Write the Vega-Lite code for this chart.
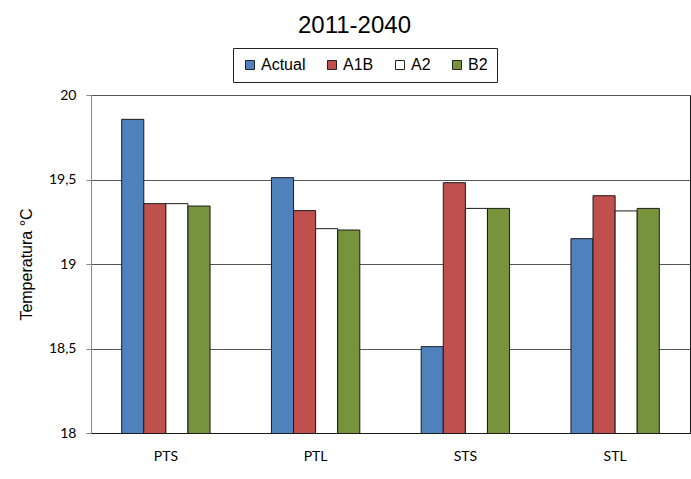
{
  "$schema": "https://vega.github.io/schema/vega-lite/v6.json",
  "width": 599,
  "height": 338,
  "autosize": "none",
  "padding": {"left": 91, "top": 95, "right": 1, "bottom": 46},
  "background": "white",
  "title": {
    "text": "2011-2040",
    "font": "Liberation Sans",
    "fontSize": 24,
    "fontWeight": "normal",
    "color": "#000000",
    "anchor": "middle",
    "dx": -36,
    "offset": 10
  },
  "data": {
    "values": [
      {"zona": "PTS", "escenario": "Actual", "temp": 19.856},
      {"zona": "PTS", "escenario": "A1B", "temp": 19.357},
      {"zona": "PTS", "escenario": "A2", "temp": 19.357},
      {"zona": "PTS", "escenario": "B2", "temp": 19.343},
      {"zona": "PTL", "escenario": "Actual", "temp": 19.511},
      {"zona": "PTL", "escenario": "A1B", "temp": 19.316},
      {"zona": "PTL", "escenario": "A2", "temp": 19.209},
      {"zona": "PTL", "escenario": "B2", "temp": 19.201},
      {"zona": "STS", "escenario": "Actual", "temp": 18.511},
      {"zona": "STS", "escenario": "A1B", "temp": 19.481},
      {"zona": "STS", "escenario": "A2", "temp": 19.329},
      {"zona": "STS", "escenario": "B2", "temp": 19.329},
      {"zona": "STL", "escenario": "Actual", "temp": 19.150},
      {"zona": "STL", "escenario": "A1B", "temp": 19.404},
      {"zona": "STL", "escenario": "A2", "temp": 19.314},
      {"zona": "STL", "escenario": "B2", "temp": 19.329}
    ]
  },
  "mark": {"type": "bar", "stroke": "#1a1a1a", "strokeWidth": 1, "clip": true},
  "encoding": {
    "x": {
      "field": "zona",
      "type": "nominal",
      "sort": ["PTS", "PTL", "STS", "STL"],
      "scale": {"paddingInner": 0.41, "paddingOuter": 0.205},
      "axis": {
        "title": null,
        "labelAngle": 0,
        "ticks": false,
        "domainColor": "#1a1a1a",
        "labelFont": "Lato",
        "labelFontSize": 14,
        "labelColor": "#000000",
        "labelPadding": 16
      }
    },
    "xOffset": {
      "field": "escenario",
      "type": "nominal",
      "sort": ["Actual", "A1B", "A2", "B2"],
      "scale": {"paddingInner": 0, "paddingOuter": 0}
    },
    "y": {
      "field": "temp",
      "type": "quantitative",
      "scale": {"domain": [18, 20], "zero": false, "nice": false},
      "axis": {
        "title": "Temperatura °C",
        "titleFont": "Liberation Sans",
        "titleFontSize": 16,
        "titleFontWeight": "normal",
        "titleColor": "#000000",
        "titlePadding": 14,
        "values": [18, 18.5, 19, 19.5, 20],
        "labelExpr": "replace(toString(datum.value), '.', ',')",
        "labelFont": "Lato",
        "labelFontSize": 14,
        "labelColor": "#000000",
        "labelPadding": 10,
        "tickSize": 5,
        "tickColor": "#888888",
        "domainColor": "#888888",
        "grid": true,
        "gridColor": "#555555",
        "gridWidth": 1
      }
    },
    "fill": {
      "field": "escenario",
      "type": "nominal",
      "scale": {
        "domain": ["Actual", "A1B", "A2", "B2"],
        "range": ["#4F81BD", "#C0504D", "#FFFFFF", "#77933C"]
      },
      "legend": {
        "title": null,
        "orient": "none",
        "legendX": 142,
        "legendY": -47,
        "direction": "horizontal",
        "strokeColor": "#222222",
        "padding": 9,
        "symbolType": "square",
        "symbolSize": 81,
        "symbolStrokeColor": "#222222",
        "symbolStrokeWidth": 1,
        "symbolOpacity": 1,
        "labelFont": "Liberation Sans",
        "labelFontSize": 16,
        "labelColor": "#000000",
        "labelOffset": 3,
        "columnPadding": 18
      }
    }
  },
  "config": {
    "view": {"stroke": "#1a1a1a", "strokeWidth": 1}
  }
}
